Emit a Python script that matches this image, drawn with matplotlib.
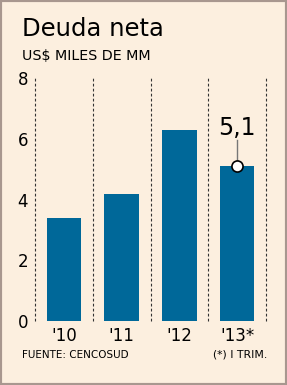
import matplotlib.pyplot as plt
from matplotlib.patches import Rectangle

years = ["'10", "'11", "'12", "'13*"]
deuda = [3.4, 4.2, 6.3, 5.1]
yticks = [0, 2, 4, 6, 8]

bg = "#fcefdf"
blue = "#006899"

fig = plt.figure(figsize=(2.87, 3.85), dpi=100, facecolor=bg)
fig.patches.append(Rectangle((0, 0), 1, 1, transform=fig.transFigure,
                             fill=False, edgecolor="#a8978f", linewidth=3))

ax = fig.add_axes([0.122, 0.166, 0.805, 0.631])
ax.set_facecolor(bg)
x = range(len(years))
ax.bar(x, deuda, width=0.6, color=blue, zorder=2)

for xv in [-0.5, 0.5, 1.5, 2.5, 3.5]:
    ax.plot([xv, xv], [0, 8], color="#333333", linestyle=(0, (2.5, 2)),
            linewidth=0.8, zorder=1, clip_on=False)

ax.set_xlim(-0.5, 3.5)
ax.set_ylim(0, 8)
ax.set_yticks(yticks)
ax.set_yticklabels([str(v) for v in yticks], fontsize=12)
ax.set_xticks(list(x))
ax.set_xticklabels(years, fontsize=12)
ax.tick_params(length=0, pad=4)
ax.tick_params(axis="y", pad=5)
for s in ax.spines.values():
    s.set_visible(False)

# valor destacado del ultimo año
last = len(deuda) - 1
ax.plot([last, last], [deuda[last], deuda[last] + 0.85], color="#777777", linewidth=1, zorder=3)
ax.plot(last, deuda[last], "o", markersize=8, markerfacecolor="white",
        markeredgecolor="black", markeredgewidth=1.2, zorder=4)
ax.text(last, deuda[last] + 0.85, "5,1", ha="center", va="bottom", fontsize=17)

fig.text(0.075, 0.925, "Deuda neta", fontsize=17.5, va="center")
fig.text(0.075, 0.855, "US$ MILES DE MM", fontsize=10.3, va="center")
fig.text(0.075, 0.078, "FUENTE: CENCOSUD", fontsize=7.5, va="center")
fig.text(0.93, 0.078, "(*) I TRIM.", fontsize=7.8, va="center", ha="right")

fig.savefig("out.png", dpi=100, facecolor=bg)
